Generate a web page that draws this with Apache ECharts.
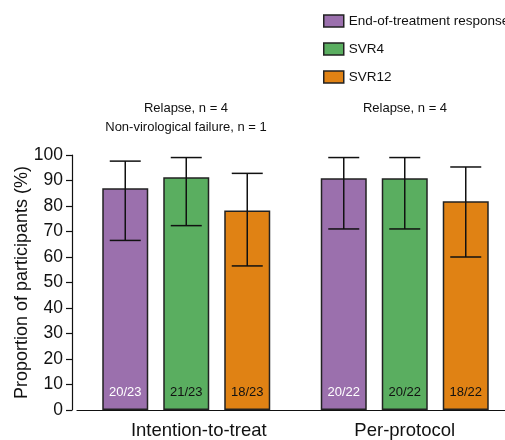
<!DOCTYPE html>
<html>
<head>
<meta charset="utf-8">
<script src="https://cdn.jsdelivr.net/npm/echarts@6/dist/echarts.min.js"></script>
<style>
  html, body { margin: 0; padding: 0; background: #fff; }
  #chart { width: 505px; height: 440px; }
</style>
</head>
<body>
<div id="chart"></div>
<script>
// categories and series
var categories = ['Intention-to-treat', 'Per-protocol'];
var seriesNames = ['End-of-treatment response', 'SVR4', 'SVR12'];

// percentages (n/N)
var eotValues = [86.96, 90.91];
var svr4Values = [91.30, 90.91];
var svr12Values = [78.26, 81.82];

// 95% CI [low, high]
var eotCI = [[66.5, 97.6], [71.0, 99.0]];
var svr4CI = [[72.3, 99.0], [71.0, 99.0]];
var svr12CI = [[56.5, 92.8], [60.0, 95.3]];

// labels inside bars
var eotLabels = ['20/23', '20/22'];
var svr4Labels = ['21/23', '20/22'];
var svr12Labels = ['18/23', '18/22'];

var colors = ['#9b70ad', '#5aae60', '#e08214'];
var labelColors = ['#ffffff', '#111111', '#111111'];
var FONT = 'Liberation Sans, Arial, sans-serif';
var BAR_W = 46, GAP = 15, CAP = 31;

function barSeries(k, values, labels) {
    return {
        name: seriesNames[k],
        type: 'bar',
        barWidth: BAR_W,
        barGap: (GAP / BAR_W * 100).toFixed(1) + '%',
        data: values,
        itemStyle: {color: colors[k], borderColor: '#222', borderWidth: 1.5},
        label: {
            show: true,
            position: 'insideBottom',
            distance: 11,
            fontFamily: FONT,
            fontSize: 13,
            color: labelColors[k],
            formatter: function (p) { return labels[p.dataIndex]; }
        }
    };
}

function errorSeries(k, ci) {
    return {
        type: 'custom',
        z: 10,
        silent: true,
        data: ci.map(function (c, i) { return [i, c[0], c[1]]; }),
        encode: {x: 0, y: [1, 2]},
        renderItem: function (params, api) {
            var lo = api.coord([api.value(0), api.value(1)]);
            var hi = api.coord([api.value(0), api.value(2)]);
            var cx = lo[0] + (k - 1) * (BAR_W + GAP);
            var st = {stroke: '#111', lineWidth: 1.5};
            return {
                type: 'group',
                children: [
                    {type: 'line', shape: {x1: cx, y1: lo[1], x2: cx, y2: hi[1]}, style: st},
                    {type: 'line', shape: {x1: cx - CAP / 2, y1: hi[1], x2: cx + CAP / 2, y2: hi[1]}, style: st},
                    {type: 'line', shape: {x1: cx - CAP / 2, y1: lo[1], x2: cx + CAP / 2, y2: lo[1]}, style: st}
                ]
            };
        }
    };
}

var chart = echarts.init(document.getElementById('chart'));
chart.setOption({
    animation: false,
    textStyle: {fontFamily: FONT},
    legend: {
        data: seriesNames,
        orient: 'vertical',
        left: 323,
        top: 14,
        padding: 0,
        icon: 'rect',
        itemWidth: 20,
        itemHeight: 12,
        itemGap: 14,
        itemStyle: {borderColor: '#222', borderWidth: 1.5},
        textStyle: {fontFamily: FONT, fontSize: 13.5, color: '#111'}
    },
    grid: {left: 77, top: 155, width: 437, bottom: 30, containLabel: false, outerBoundsMode: 'none'},
    xAxis: {
        type: 'category',
        data: categories,
        axisLine: {lineStyle: {color: '#111', width: 1.2}},
        axisTick: {alignWithLabel: true, length: 7, lineStyle: {color: '#111', width: 1.2}},
        axisLabel: {
            fontFamily: FONT,
            fontSize: 18.5,
            color: '#111',
            margin: 11,
            formatter: function (v, i) { return i === 0 ? '{a|' + v + '}' : v; },
            rich: {a: {fontFamily: FONT, fontSize: 18.5, color: '#111', padding: [0, 0, 0, 25]}}
        }
    },
    yAxis: {
        type: 'value',
        min: 0,
        max: 100,
        interval: 10,
        offset: 5,
        name: 'Proportion of participants (%)',
        nameLocation: 'middle',
        nameGap: 41,
        nameMoveOverlap: false,
        nameTextStyle: {fontFamily: FONT, fontSize: 18, color: '#111'},
        axisLine: {show: true, lineStyle: {color: '#111', width: 1.2}},
        axisTick: {show: true, length: 6, lineStyle: {color: '#111', width: 1.2}},
        axisLabel: {fontFamily: FONT, fontSize: 17.5, color: '#111', margin: 9},
        splitLine: {show: false}
    },
    graphic: [
        {type: 'text', x: 186, y: 102, style: {text: 'Relapse, n = 4', font: '13px ' + FONT, fill: '#111', textAlign: 'center'}},
        {type: 'text', x: 186, y: 121, style: {text: 'Non-virological failure, n = 1', font: '13px ' + FONT, fill: '#111', textAlign: 'center'}},
        {type: 'text', x: 405, y: 102, style: {text: 'Relapse, n = 4', font: '13px ' + FONT, fill: '#111', textAlign: 'center'}}
    ],
    series: [
        barSeries(0, eotValues, eotLabels),
        barSeries(1, svr4Values, svr4Labels),
        barSeries(2, svr12Values, svr12Labels),
        errorSeries(0, eotCI),
        errorSeries(1, svr4CI),
        errorSeries(2, svr12CI)
    ]
});
</script>
</body>
</html>
